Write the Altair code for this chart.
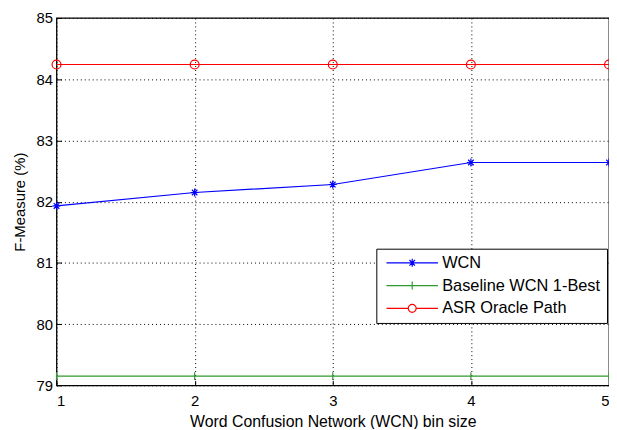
import altair as alt
import pandas as pd

bins = [1, 2, 3, 4, 5]
wcn = [81.93, 82.15, 82.28, 82.64, 82.64]
baseline = [79.15, 79.15, 79.15, 79.15, 79.15]
oracle = [84.24, 84.24, 84.24, 84.24, 84.24]
series_names = ["WCN", "Baseline WCN 1-Best", "ASR Oracle Path"]
series_colors = ["#0000FF", "#2E9A2E", "#FF0000"]

rows = []
for name, vals in zip(series_names, [wcn, baseline, oracle]):
    for b, v in zip(bins, vals):
        rows.append({"bin": b, "value": v, "series": name})
df = pd.DataFrame(rows)

FONT = "Liberation Sans"

# marker paths (unit coordinates)
STAR = "M-1,0H1M0,-1V1M-0.7,-0.7L0.7,0.7M-0.7,0.7L0.7,-0.7"
PLUS = "M0,-1V1"
CIRC = "M-1,0A1,1 0 1,0 1,0A1,1 0 1,0 -1,0"
# legend symbols: a line segment with the marker in the middle
LEG_STAR = "M-6.5,0H6.5" + STAR
LEG_PLUS = "M-6.5,0H6.5" + PLUS
LEG_CIRC = "M-6.5,0H-1M1,0H6.5" + CIRC
marker_paths = [STAR, PLUS, CIRC]
marker_sizes = [64, 64, 81]

x_enc = alt.X("bin:Q", scale=alt.Scale(domain=[1, 5], nice=False),
              axis=alt.Axis(title="Word Confusion Network (WCN) bin size", values=bins,
                            format="d", grid=True, gridDash=[1, 3], gridColor="#000000",
                            gridOpacity=1, domain=False, ticks=True, tickSize=5,
                            tickColor="#000000", offset=-5, labelPadding=8,
                            titlePadding=6, titleFontSize=16))
y_enc = alt.Y("value:Q", scale=alt.Scale(domain=[79, 85], nice=False, zero=False),
              axis=alt.Axis(title="F-Measure (%)", values=[79, 80, 81, 82, 83, 84, 85],
                            format="d", grid=True, gridDash=[1, 3], gridColor="#000000",
                            gridOpacity=1, domain=False, ticks=True, tickSize=5,
                            tickColor="#000000", offset=-5, labelPadding=4,
                            titlePadding=9))

base = alt.Chart(df)

layers = []
for i, (name, col, path, size) in enumerate(zip(series_names, series_colors, marker_paths, marker_sizes)):
    sub = base.transform_filter(alt.datum.series == name)
    enc_x = x_enc if i == 0 else alt.X("bin:Q")
    enc_y = y_enc if i == 0 else alt.Y("value:Q")
    layers.append(sub.mark_line(color=col, strokeWidth=1.2).encode(x=enc_x, y=enc_y))
    layers.append(sub.mark_point(shape=path, size=size, filled=False, color=col,
                                 strokeWidth=1.2, opacity=1).encode(x="bin:Q", y="value:Q"))

leg = base.mark_point(opacity=0, filled=False, size=64).encode(
    x="bin:Q", y="value:Q",
    color=alt.Color("series:N", scale=alt.Scale(domain=series_names, range=series_colors),
                    legend=alt.Legend(
                        title=None, orient="none", legendX=323, legendY=233,
                        symbolSize=64, symbolOffset=22, labelOffset=22,
                        labelFont=FONT, labelFontSize=16.5, labelColor="#000000",
                        strokeColor="#000000", fillColor="#FFFFFF", padding=6, rowPadding=6,
                        symbolStrokeWidth=1.2, symbolOpacity=1, labelLimit=300)),
    shape=alt.Shape("series:N", scale=alt.Scale(domain=series_names,
                                                range=[LEG_STAR, LEG_PLUS, LEG_CIRC])),
)

chart = alt.layer(*layers, leg).properties(
    width=558, height=371,
    autosize=alt.AutoSizeParams(type="none"),
    padding={"left": 49, "top": 8, "right": 0, "bottom": 42},
).configure_view(
    stroke="#000000", strokeWidth=1.3
).configure_axis(
    labelFont=FONT, labelFontSize=15, labelColor="#000000",
    titleFont=FONT, titleFontSize=15, titleColor="#000000", titleFontWeight="normal",
)

chart.save("out.html", embed_options={"renderer": "svg", "actions": False})
